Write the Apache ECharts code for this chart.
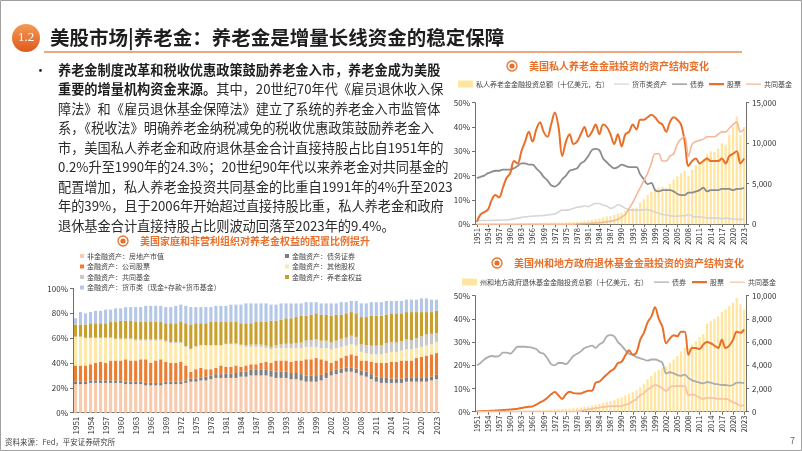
<!DOCTYPE html>
<html><head><meta charset="utf-8">
<script src="https://cdn.jsdelivr.net/npm/echarts/dist/echarts.min.js"></script>
<style>html,body{margin:0;padding:0;background:#fff;overflow:hidden}.c{position:absolute;left:0;top:0;width:802px;height:451px}</style>
</head><body>
<div id="a" class="c"></div><div id="b" class="c"></div><div id="c" class="c"></div>
<script>
const FONT = 'Noto Sans CJK SC';
const years = [];
for (let y = 1951; y <= 2023; y++) years.push(String(y));

// ---- Chart 1: household & nonprofit asset allocation (%) ----
const re1 = [23,23,23,24,24,24,24,24,24,24, 23,23,23,23,22,22,22,22,23,23, 23,23,24,25,25,26,26,27,28,28, 28,28,28,29,29,30,30,30,30,29, 28,28,28,27,27,26,25,25,25,26, 28,30,31,32,33,33,32,30,29,27, 25,24,24,24,24,24,25,25,25,25, 25,26,27];
const debt1 = [2,2,2,2,2,2,2,2,2,2, 2,2,2,2,2,2,2,2,2,2, 2,2,2,2.5,2.5,2.5,3,3,3,3, 3.5,3.5,4,4,4,4.5,4.5,4.5,4.5,5, 5,5,5,5,5,5,5,5,4.5,4.5, 4,3.5,3.5,3.5,3.5,3.5,3.5,4,4,4, 4,4,4,3.5,3.5,3.5,3.5,3.5,3,3, 3,3,3.5];
const stock1 = [13,13,13,13,14,15,14,16,16,16, 18,17,17,18,19,16,18,19,16,15, 15,16,12,5.5,7.5,7.5,6,5,5,7, 5.5,5.5,6,4,5,4.5,4.5,5.5,6.5,6, 9,9,9,9,10,11,13,13,14.5,12.5, 10,6.5,7.5,8.5,9.5,10.5,10.5,8,9,10, 11,12,12,13.5,13.5,14.5,13.5,13.5,16,17, 18,18,17.5];
const oe1 = [23,23,22,21,20,19,20,18,17,17, 16,17,16,15,15,18,16,15,16,16, 16,15,15,18,18,18,19,19,18,16, 18,18,17,17,15,14,14,13,11,11, 10,10,10,11,10,10,10,10,9,9, 10,11,10,9,8,8,8,7,6,6, 7,7,8,8,8,8,9,9,8,8, 8,8,9];
const mf1 = [0.3,0.3,0.3,0.4,0.4,0.5,0.5,0.6,0.7,0.7, 0.8,0.8,0.9,0.9,1,1,1,1.2,1,0.9, 0.9,0.9,0.7,0.5,0.6,0.6,0.5,0.5,0.5,0.5, 0.5,0.6,0.8,0.8,1.3,1.8,1.8,1.8,2,2, 2.5,3,3.5,3.5,4,4.5,5,5.5,6,6, 6,5.5,6,6.5,6.5,7,7,6,6.5,7, 7,7.5,8,8,7.5,7.5,8,7.5,8,8.5, 9,8.5,7];
const pen1 = [9.7,9.7,10.7,11.6,11.6,11.5,11.5,12.4,13.3,14.3, 14.2,14.2,14.1,14.1,14,14,14,13.8,14,15.1, 15.1,16.1,18.3,19.5,18.4,17.4,17.5,18.5,18.5,18.5, 17.5,17.4,17.2,17.2,17.7,17.2,18.2,18.2,19,21, 19.5,20,20.5,20.5,21,21.5,20,20.5,21,21, 21,21.5,21,19.5,19.5,19,19,22,22.5,24, 24,23.5,23,23,23.5,22.5,22,22.5,21,19.5, 18,17.5,18];
const money1 = [5,10,9,9,10,10,11,10,11,10, 11,11,12,12,13,13,13,13,13,13, 14,14,14,14,13,13,13,12,13,13, 13,14,14,15,16,16,15,15,15,13, 13,13,12,12,11,10,11,10,9,9, 9,10,9,10,9,9,10,11,11,11, 11,11,11,10,10,10,10,10,10,11, 11,10,9];

// ---- Chart 2: private pension funds ----
const stock2 = [1,4,5,6,10,12,11,15,19,21, 26,25,30,34,38,34,39,42,38,36, 41,46,40,28,34,37,33,34,37,40, 36,38,41,37,41,40,37,33,37,32, 37,38,41,39,43,43,44,45,44,42, 41,38,42,44,43,41,34,24,26,27, 25,26,27,26,26,26,27,25,28,29, 30,25,27];
const bond2 = [19,19.5,20,21,21.5,22,22,22.5,22.5,22.5, 23,24,25,25,24.5,24.5,23,21.5,19.5,18, 16,15.5,16.5,18.5,20,22,22.5,23,25,26, 28,30.5,31,30.5,27,25.5,24,23,23.5,24.5, 24,23.5,23.5,23.5,20.5,18.5,16.5,17,14,13.5, 14,14,14,13.5,12.5,12,12,13,13,13.5, 14,15,13.5,14,14,14,14.5,14.5,14.5,14, 14.5,14.5,15];
const money2 = [1.5,1.5,1.5,1.5,1.6,1.6,1.6,1.7,1.7,2, 2.2,2.5,2.8,3,3.2,3.3,3.4,3.5,3.6,3.8, 4,4.2,5,5.8,5.8,6,6.5,7,7.2,7.5, 7.2,8,8.5,8.5,7.8,7.5,6.5,7,8,7.5, 6.5,6,5.8,5.8,5.8,6,6,5.5,5,4.5, 4,3.8,3.5,3.3,3.3,3.5,3.5,4,3.3,3, 3,2.8,2.6,2.5,2.5,2.5,2.3,2.5,2.3,2.2, 2,2,2];
const mf2 = [0,0,0,0,0,0,0,0,0,0, 0,0,0,0,0,0,0,0,0,0, 0,0,0,0,0,0,0,0.2,0.2,0.3, 0.3,0.4,0.5,0.6,0.8,1,1.2,1.5,2,3, 4,6.5,9,12,15,18,21,25,29,29, 26,26,28,29,33,35,36,28,33,34, 34.5,35,36,36,36,37,38,38,39.5,41, 42,38,39];
const total2 = [20,25,30,35,40,45,50,60,68,75, 85,90,100,110,120,125,140,150,155,165, 185,210,200,190,230,260,280,310,360,430, 460,550,650,700,850,950,1000,1150,1350,1400, 1650,1800,2000,2050,2700,3100,3600,4000,4400,4500, 4600,4500,5000,5500,5900,6300,6600,6000,6700,7300, 7600,8000,8700,9000,8900,9300,10000,9800,11000,12000, 13300,11000,12000];

// ---- Chart 3: state & local government retirement funds ----
const bond3 = [20,21,22.5,23.5,24,23.8,24,25.5,25.5,25, 26.5,28,28,28,27.8,27.5,27,25.5,25,23, 20.5,20,21,21,20.5,22,24,25,26,27.5, 28,28.5,27.5,29,30,32.5,33,32.5,30,28.5, 26.5,25,24.5,23.5,23,22.5,22,22.5,22.5,22, 21,16.5,17,16.5,15.8,15.5,16,14.5,13.5,13, 12.5,12.2,12.8,12.5,12,11.8,11.5,11.5,11.2,11.5, 12.5,12.5,12.3];
const stock3 = [0.2,0.2,0.3,0.3,0.4,0.5,0.6,0.7,0.8,0.9, 1.1,1.3,1.6,1.9,2.1,2.3,3,4,4.8,6, 7.5,8.5,7,5.5,7.5,8.6,8,7.8,7.8,8.5, 9,9,12.5,13,14.5,16,17.5,18.5,21,21.5, 24.3,26.5,24.5,25.5,31,34,38.5,41,45,40, 36.5,29.5,31.5,33,32.5,34.5,34.5,24.5,27.5,27.5, 27,29,30,29.5,28.5,27.5,31,27.5,28.5,31, 34.5,34,35.5];
const mf3 = [0,0,0,0,0,0,0,0,0,0, 0,0,0,0,0,0,0,0,0,0, 0,0,0,0,0,0,0,0.2,0.4,0.8, 1,1.2,1.5,1.8,2,2.2,2.4,2.4,2.4,2.5, 3,3.5,4.5,5.5,7,8,9.5,10.5,11.5,11, 10,9,10.5,11,11,11,11,7,7.5,7, 6,5.5,6,6,5.8,5.5,5.5,5.5,5,4, 3.5,2.5,2.8];
const total3 = [20,25,28,32,36,40,45,50,55,60, 65,72,80,88,97,105,115,125,135,150, 170,190,205,215,240,270,300,330,370,420, 460,530,600,660,760,850,920,1020,1150,1250, 1400,1550,1700,1850,2100,2400,2800,3100,3400,3600, 3800,3900,4200,4500,4800,5200,5500,5500,5800,6100, 6400,6700,7600,7800,8000,8200,8600,8800,9100,9400, 9800,9300,8800];

const ORANGE = '#E8702A';
const TXT = '#333333';
const AX = '#6E6E6E';

const paraLines = [
  '{b|养老金制度改革和税收优惠政策鼓励养老金入市，养老金成为美股}',
  '{b|重要的增量机构资金来源。}{n|其中，20世纪70年代《雇员退休收入保}',
  '{n|障法》和《雇员退休基金保障法》建立了系统的养老金入市监管体}',
  '{n|系，《税收法》明确养老金纳税减免的税收优惠政策鼓励养老金入}',
  '{n|市，美国私人养老金和政府退休基金合计直接持股占比自1951年的}',
  '{n|0.2%升至1990年的24.3%；20世纪90年代以来养老金对共同基金的}',
  '{n|配置增加，私人养老金投资共同基金的比重自1991年的4%升至2023}',
  '{n|年的39%，且于2006年开始超过直接持股比重，私人养老金和政府}',
  '{n|退休基金合计直接持股占比则波动回落至2023年的9.4%。}'
];

function icon(x, y) {
  return [
    {type:'circle', shape:{cx:x, cy:y, r:5}, style:{fill:'#fff', stroke:ORANGE, lineWidth:1.3}},
    {type:'circle', shape:{cx:x, cy:y, r:2.6}, style:{fill:ORANGE}}
  ];
}
function subTitle(x, y, text) {
  return {type:'text', x:x, y:y, style:{text:text, fill:ORANGE, font:'bold 10px "'+FONT+'"', textVerticalAlign:'middle'}};
}

const gA = [
  {type:'rect', shape:{x:0.5, y:0.5, width:801, height:450}, style:{fill:'none', stroke:'#A0A0A0', lineWidth:1}},
  {type:'circle', shape:{cx:26, cy:38, r:14}, style:{fill:new echarts.graphic.LinearGradient(0,0,0,1,[{offset:0,color:'#F39A55'},{offset:1,color:'#DE5A1E'}])}},
  {type:'text', x:26, y:38, style:{text:'1.2', fill:'#fff', font:'13px "Liberation Serif"', textAlign:'center', textVerticalAlign:'middle'}},
  {type:'text', x:50, y:38, style:{text:'美股市场|养老金：养老金是增量长线资金的稳定保障', fill:'#1E1E1E', font:'bold 19.5px "'+FONT+'"', textVerticalAlign:'middle'}},
  {type:'line', shape:{x1:44, y1:52, x2:742, y2:52}, style:{stroke:'#EA8A55', lineWidth:1.5}},
  {type:'text', x:34, y:70, style:{text:'•', fill:'#222', font:'13px "'+FONT+'"', textVerticalAlign:'middle'}},
  {type:'text', x:5, y:442, style:{text:'资料来源：Fed，平安证券研究所', fill:'#444', font:'7.5px "'+FONT+'"', textVerticalAlign:'middle'}},
  {type:'text', x:790, y:441, style:{text:'7', fill:'#666', font:'9px "'+FONT+'"', textVerticalAlign:'middle'}},
  subTitle(140, 241, '美国家庭和非营利组织对养老金权益的配置比例提升')
].concat(icon(123, 241));
paraLines.forEach((t, i) => {
  gA.push({type:'text', x:58, y:70 + i*19.45, style:{text:t, textVerticalAlign:'middle',
    rich:{b:{fontSize:13.2, fontWeight:'bold', fontFamily:FONT, fill:'#1E1E1E'},
          n:{fontSize:13.2, fontWeight:'normal', fontFamily:FONT, fill:'#2A2A2A'}}}});
});

const names1 = ['非金融资产：房地产市值','金融资产：债务证券','金融资产：公司股票','金融资产：其他股权','金融资产：共同基金','金融资产：养老金权益','金融资产：货币类（现金+存款+货币基金）'];
const colors1 = ['#F8CBAD','#7F7F7F','#ED7D31','#FFE9A8','#C9C9C9','#C9A02C','#B4C7E7'];
const data1 = [re1, debt1, stock1, oe1, mf1, pen1, money1];

const legendBase = {orient:'vertical', icon:'rect', itemWidth:4, itemHeight:4, itemGap:1.5,
  textStyle:{fontSize:7, color:'#444', fontFamily:FONT, lineHeight:9, padding:[0,0,0,-2]}, padding:0};

const optA = {
  animation:false,
  textStyle:{fontFamily:FONT},
  graphic:gA,
  legend:[
    Object.assign({left:80, top:251.5, data:[names1[0],names1[2],names1[4],names1[6]]}, legendBase),
    Object.assign({left:285, top:251.5, data:[names1[1],names1[3],names1[5]]}, legendBase)
  ],
  grid:{left:73, top:288.5, width:366, height:124.2},
  xAxis:{type:'category', data:years,
    axisLine:{lineStyle:{color:AX}}, axisTick:{show:false},
    axisLabel:{interval:2, rotate:90, fontSize:8, color:TXT, margin:4}},
  yAxis:{type:'value', min:0, max:100, interval:20,
    axisLine:{show:true, lineStyle:{color:AX}}, axisTick:{show:true, length:3, lineStyle:{color:AX}},
    splitLine:{show:false}, axisLabel:{formatter:'{value}%', fontSize:8, color:TXT, margin:5}},
  series:data1.map((d, i) => ({name:names1[i], type:'bar', stack:'all', data:d, barWidth:'62%',
    itemStyle:{color:colors1[i]}}))
};
echarts.init(document.getElementById('a')).setOption(optA);

function fmtK(v){ return v.toLocaleString('en-US'); }
// thin horizontal bar icons for line legends (bounding box 15x7)
const LINE_ICON = 'path://M0,0h0.01v0.01h-0.01zM0,7h0.01v0.01h-0.01zM0,2.9h15v1.3h-15z';
const THICK_ICON = 'path://M0,0h0.01v0.01h-0.01zM0,7h0.01v0.01h-0.01zM0,2.4h15v2.3h-15z';

function rightOpt(cfg) {
  const series = [{name:cfg.barName, type:'bar', yAxisIndex:1, data:cfg.total, barWidth:'60%',
    itemStyle:{color:'rgba(255,224,140,0.85)'}}];
  cfg.lines.forEach(l => series.push({name:l.name, type:'line', data:l.data, symbol:'none', smooth:0.35,
    lineStyle:{color:l.color, width:l.width}, itemStyle:{color:l.color}, z:3}));
  return {
    animation:false,
    textStyle:{fontFamily:FONT},
    graphic:icon(cfg.iconX, cfg.titleY).concat([subTitle(cfg.iconX + 17, cfg.titleY, cfg.title)]),
    legend:{left:cfg.legendLeft, top:cfg.legendTop, itemWidth:15, itemHeight:7, itemGap:cfg.legendGap, padding:0,
      symbolKeepAspect:false,
      textStyle:{fontSize:7, color:'#444', fontFamily:FONT, padding:[0,0,0,-2]},
      data:[{name:cfg.barName, icon:'rect'}].concat(cfg.lines.map(l => ({name:l.name, icon: l.width >= 2 ? THICK_ICON : LINE_ICON})))},
    grid:{left:475, top:cfg.top, width:271, height:cfg.height},
    xAxis:{type:'category', data:years,
      axisLine:{lineStyle:{color:AX}}, axisTick:{show:true, interval:2, alignWithLabel:true, length:3, lineStyle:{color:AX}},
      axisLabel:{interval:2, rotate:90, fontSize:7.5, color:TXT, margin:4}},
    yAxis:[
      {type:'value', min:0, max:50, interval:10,
        axisLine:{show:true, lineStyle:{color:AX}}, axisTick:{show:true, length:3, lineStyle:{color:AX}},
        splitLine:{show:false}, axisLabel:{formatter:'{value}%', fontSize:8, color:TXT, margin:5}},
      {type:'value', min:0, max:cfg.rmax, interval:cfg.rint, position:'right',
        axisLine:{show:true, lineStyle:{color:AX}}, axisTick:{show:true, length:3, lineStyle:{color:AX}},
        splitLine:{show:false}, axisLabel:{formatter:fmtK, fontSize:8, color:TXT, margin:6}}
    ],
    series:series
  };
}

echarts.init(document.getElementById('b')).setOption(rightOpt({
  title:'美国私人养老金金融投资的资产结构变化', iconX:512, titleY:66,
  barName:'私人养老金金融投资总额（十亿美元，右）', total:total2,
  legendLeft:458, legendTop:80.5, legendGap:5,
  top:102.7, height:121.5, rmax:15000, rint:5000,
  lines:[
    {name:'货币类资产', data:money2, color:'#D6D6D6', width:1.6},
    {name:'债券', data:bond2, color:'#8C8C8C', width:1.8},
    {name:'股票', data:stock2, color:ORANGE, width:2},
    {name:'共同基金', data:mf2, color:'#F4B896', width:1.6}
  ]
}));

echarts.init(document.getElementById('c')).setOption(rightOpt({
  title:'美国州和地方政府退休基金金融投资的资产结构变化', iconX:497, titleY:263,
  barName:'州和地方政府退休基金金融投资总额（十亿美元，右）', total:total3,
  legendLeft:462, legendTop:278.5, legendGap:6,
  top:295.7, height:116, rmax:10000, rint:2000,
  lines:[
    {name:'债券', data:bond3, color:'#ADADAD', width:1.8},
    {name:'股票', data:stock3, color:ORANGE, width:2},
    {name:'共同基金', data:mf3, color:'#F7C4A6', width:1.8}
  ]
}));
</script>
</body></html>
